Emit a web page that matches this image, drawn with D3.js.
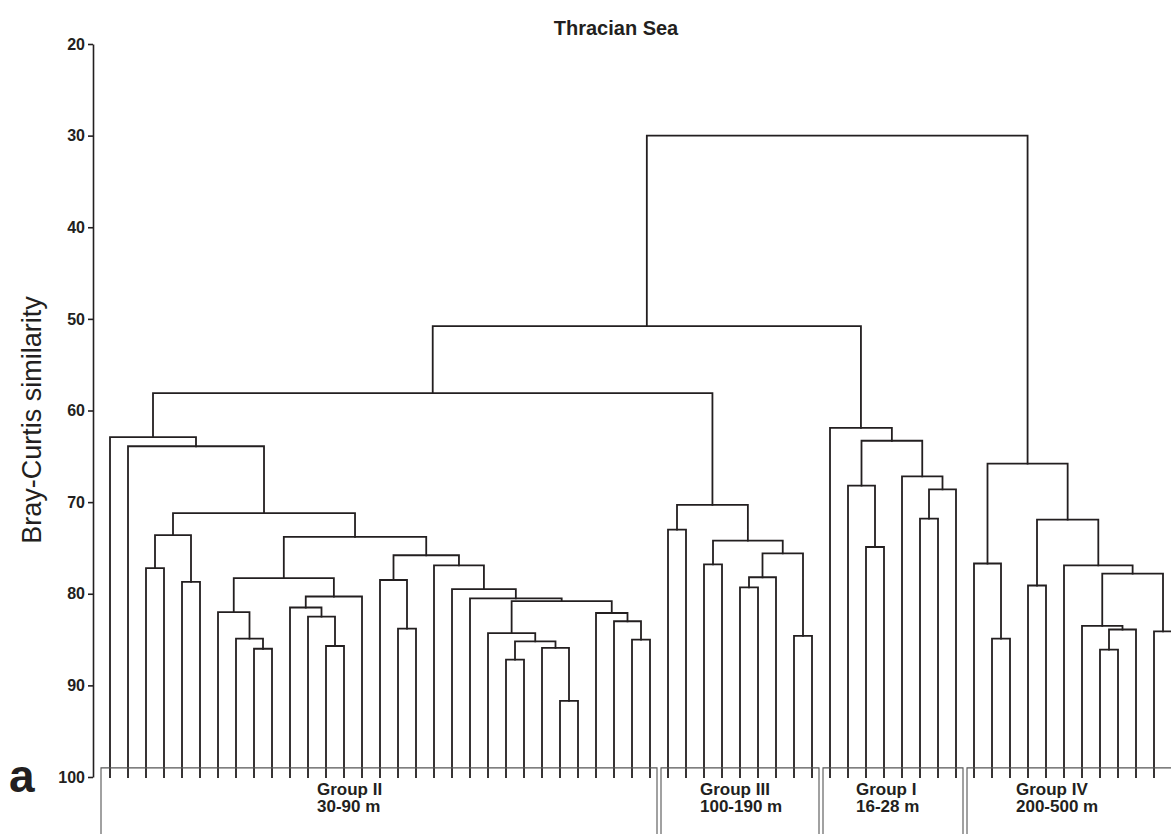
<!DOCTYPE html>
<html><head><meta charset="utf-8">
<script src="https://cdn.jsdelivr.net/npm/d3@7/dist/d3.min.js"></script>
<style>body{margin:0;background:#fff}svg{display:block}</style>
</head><body>
<svg id="chart" width="1171" height="834"></svg>
<script>
// ---------- DATA ----------
const chartTitle = "Thracian Sea";
const yAxisLabel = "Bray-Curtis similarity";
const panelLetter = "a";
const yTickValues = [20, 30, 40, 50, 60, 70, 80, 90, 100];
const leafIds = d3.range(60);              // 60 stations, left to right
// clusters written as [similarity, leftBranch, rightBranch]; plain numbers are leaves
const groupII = [62.9, 0, [63.9, 1, [71.2,
  [73.6, [77.2, 2, 3], [78.7, 4, 5]],
  [73.8,
    [78.3, [82.0, 6, [84.9, 7, [86.0, 8, 9]]], [80.3, [81.5, 10, [82.5, 11, [85.7, 12, 13]]], 14]],
    [75.8, [78.5, 15, [83.8, 16, 17]],
      [76.9, 18, [79.5, 19, [80.5, 20, [80.8,
        [84.3, 21, [85.2, [87.2, 22, 23], [85.9, 24, [91.7, 25, 26]]]],
        [82.1, 27, [83.0, 28, [85.0, 29, 30]]]]]]]]]]]];
const groupIII = [70.3, [73.0, 31, 32], [74.2, [76.8, 33, 34], [75.6, [78.2, [79.3, 35, 36], 37], [84.6, 38, 39]]]];
const groupI = [61.9, 40, [63.3, [68.2, 41, [74.9, 42, 43]], [67.2, 44, [68.6, [71.8, 45, 46], 47]]]];
const groupIV = [65.8, [76.7, 48, [84.9, 49, 50]], [71.9, [79.1, 51, 52], [76.9, 53, [77.8, [83.5, 54, [83.9, [86.1, 55, 56], 57]], [84.1, 58, 59]]]]];
const topSimilarities = [30.0, 50.8, 58.1];  // root, (II+III)+I, II+III
const groupNames  = ["Group II", "Group III", "Group I", "Group IV"];
const groupDepths = ["30-90 m", "100-190 m", "16-28 m", "200-500 m"];
const groupFirstLeaf = [0, 31, 40, 48];
const groupLastLeaf  = [30, 39, 47, 59];

// ---------- LAYOUT ----------
const W = 1171, H = 834;
const ink = "#231f20";
const font = "'Liberation Sans', Arial, Helvetica, sans-serif";
const labelStartX = [317, 700, 856, 1016];

const tree = [topSimilarities[0], [topSimilarities[1], [topSimilarities[2], groupII, groupIII], groupI], groupIV];

const svg = d3.select("#chart");
const y = d3.scaleLinear().domain([20, 100]).range([44, 777]);
const x = d3.scalePoint().domain(leafIds).range([110, 1172]);
const step = x.step();

const root = d3.hierarchy(tree, d => Array.isArray(d) ? d.slice(1) : null);
root.eachAfter(n => {
  if (n.children) {
    n.px = d3.mean(n.children, c => c.px);
    n.py = y(n.data[0]);
  } else {
    n.px = x(n.data);
    n.py = y(100);
  }
});

// dendrogram links
const g = svg.append("g").attr("fill", "none").attr("stroke", ink).attr("stroke-width", 1.8);
root.descendants().filter(n => n.children).forEach(n => {
  const [a, b] = n.children;
  const p = d3.path();
  p.moveTo(a.px, a.py); p.lineTo(a.px, n.py); p.lineTo(b.px, n.py); p.lineTo(b.px, b.py);
  g.append("path").attr("d", p.toString()).attr("stroke-linejoin", "miter").attr("stroke-linecap", "square");
});

// y axis
const axis = svg.append("g").attr("transform", "translate(93,0)")
  .call(d3.axisLeft(y).tickValues(yTickValues).tickSize(5).tickSizeOuter(0).tickPadding(3));
axis.select(".domain").attr("stroke", ink).attr("stroke-width", 1.6);
axis.selectAll(".tick line").attr("stroke", ink).attr("stroke-width", 1.6);
axis.selectAll(".tick text").attr("fill", ink).attr("font-family", font)
  .attr("font-size", 16).attr("font-weight", "bold");

// group boxes and labels
const boxTop = y(99.0);
groupNames.forEach((name, i) => {
  const left = i === 0 ? x(groupFirstLeaf[i]) - step / 2 : (x(groupLastLeaf[i - 1]) + x(groupFirstLeaf[i])) / 2 + 2;
  const right = i === groupNames.length - 1 ? x(groupLastLeaf[i]) + step / 2 : (x(groupLastLeaf[i]) + x(groupFirstLeaf[i + 1])) / 2 - 2;
  svg.append("path")
    .attr("d", `M${left},${H + 2}V${boxTop}H${right}V${H + 2}`)
    .attr("fill", "none").attr("stroke", "#555").attr("stroke-width", 1.1);
  const t = svg.append("text").attr("font-family", font).attr("font-size", 17)
    .attr("font-weight", "bold").attr("fill", ink);
  t.append("tspan").attr("x", labelStartX[i]).attr("y", 795).text(name);
  t.append("tspan").attr("x", labelStartX[i]).attr("y", 812).text(groupDepths[i]);
});

// title, axis label, panel letter
svg.append("text").attr("x", 616).attr("y", 35).attr("text-anchor", "middle")
  .attr("font-family", font).attr("font-size", 20).attr("font-weight", "bold").attr("fill", ink)
  .text(chartTitle);
svg.append("text").attr("transform", "translate(41,420) rotate(-90)").attr("text-anchor", "middle")
  .attr("font-family", font).attr("font-size", 27).attr("fill", ink).text(yAxisLabel);
svg.append("text").attr("x", 9).attr("y", 792)
  .attr("font-family", font).attr("font-size", 46).attr("font-weight", "bold").attr("fill", ink).text(panelLetter);
</script>
</body></html>
